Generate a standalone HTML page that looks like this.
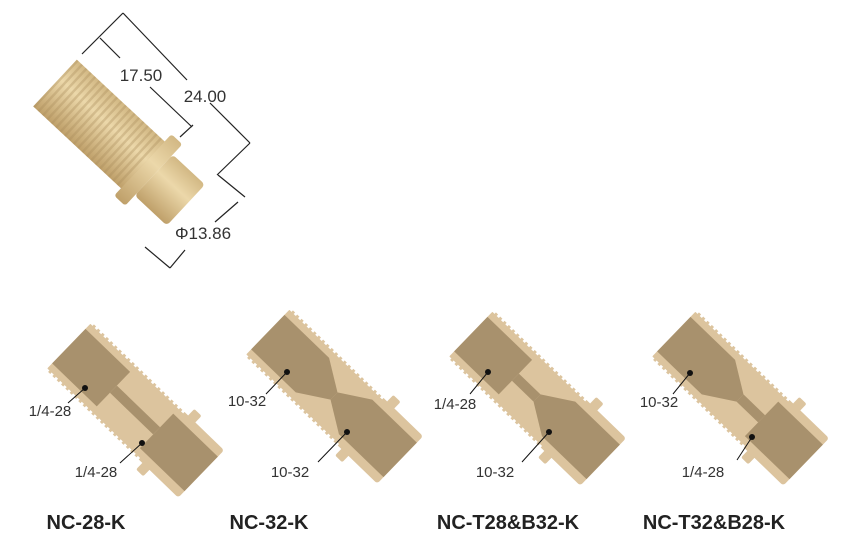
<!DOCTYPE html>
<html><head><meta charset="utf-8"><style>
html,body{margin:0;padding:0;background:#fff;}
svg{display:block;}
text{font-family:"Liberation Sans",sans-serif;}
</style></head><body>
<svg width="843" height="545" viewBox="0 0 843 545" xmlns="http://www.w3.org/2000/svg">
<defs>
<linearGradient id="br" x1="0" y1="0" x2="0" y2="1">
<stop offset="0" stop-color="#d2b884"/><stop offset="0.4" stop-color="#ecd8aa"/><stop offset="1" stop-color="#bfa06a"/>
</linearGradient>
<pattern id="thr" width="6" height="10" patternUnits="userSpaceOnUse">
<rect x="0" width="2.5" height="10" fill="#a98d5a" opacity="0.35"/>
</pattern>
<g id="body">
<rect x="-92" y="-33" width="184" height="66" rx="3" fill="#dcc49e"/>
<rect x="42" y="-42" width="10" height="84" rx="2" fill="#dcc49e"/>
<line x1="-92" y1="-33" x2="40" y2="-33" stroke="#fff" stroke-width="4" stroke-dasharray="3 3"/>
<line x1="-92" y1="33" x2="40" y2="33" stroke="#fff" stroke-width="4" stroke-dasharray="3 3"/>
</g>
<rect id="cl" x="-92" y="-24" width="62" height="48" fill="#a8916d"/>
<rect id="cr" x="30" y="-24" width="62" height="48" fill="#a8916d"/>
<polygon id="tl" points="-92,-24 -30,-24 0,-5 0,5 -30,24 -92,24" fill="#a8916d"/>
<polygon id="tr" points="92,-24 30,-24 0,-5 0,5 30,24 92,24" fill="#a8916d"/>
</defs>

<g transform="translate(55,83) rotate(43)">
<rect x="0" y="-32" width="122" height="64" fill="url(#br)"/>
<rect x="0" y="-32" width="122" height="64" fill="url(#thr)"/>
<rect x="120" y="-42" width="15" height="84" rx="3" fill="url(#br)"/>
<rect x="135" y="-28" width="44" height="56" rx="4" fill="url(#br)"/>
</g>
<g stroke="#222" stroke-width="1.2" fill="none">
<line x1="82" y1="54" x2="123" y2="13"/>
<line x1="123" y1="13" x2="187" y2="80"/>
<line x1="100" y1="38" x2="120" y2="58"/>
<line x1="150" y1="87" x2="192" y2="127"/>
<line x1="180" y1="137" x2="193" y2="125"/>
<line x1="210" y1="103" x2="250" y2="143"/>
<line x1="250" y1="143" x2="217" y2="175"/>
<line x1="218" y1="175" x2="245" y2="197"/>
<line x1="238" y1="202" x2="215" y2="222"/>
<line x1="145" y1="247" x2="170" y2="268"/>
<line x1="170" y1="268" x2="185" y2="250"/>
</g>
<g font-size="17" fill="#333" text-anchor="middle">
<text x="141" y="81">17.50</text>
<text x="205" y="102">24.00</text>
<text x="203" y="239">Φ13.86</text>
</g>

<g transform="translate(135,410) rotate(44)"><use href="#body"/><use href="#cl"/><rect x="-30" y="-5" width="60" height="10" fill="#a8916d"/><use href="#cr"/></g>
<g transform="translate(334,396) rotate(44)"><use href="#body"/><use href="#tl"/><use href="#tr"/></g>
<g transform="translate(537,398) rotate(44)"><use href="#body"/><use href="#cl"/><rect x="-30" y="-5" width="30" height="10" fill="#a8916d"/><use href="#tr"/></g>
<g transform="translate(740,398) rotate(44)"><use href="#body"/><use href="#tl"/><rect x="0" y="-5" width="30" height="10" fill="#a8916d"/><use href="#cr"/></g>

<g stroke="#111" stroke-width="1">
<line x1="85" y1="388" x2="68" y2="403"/><line x1="142" y1="443" x2="120" y2="463"/>
<line x1="287" y1="372" x2="266" y2="394"/><line x1="347" y1="432" x2="318" y2="462"/>
<line x1="488" y1="372" x2="470" y2="394"/><line x1="549" y1="432" x2="522" y2="462"/>
<line x1="690" y1="373" x2="673" y2="394"/><line x1="752" y1="437" x2="737" y2="460"/>
</g>
<g fill="#111">
<circle cx="85" cy="388" r="3"/><circle cx="142" cy="443" r="3"/>
<circle cx="287" cy="372" r="3"/><circle cx="347" cy="432" r="3"/>
<circle cx="488" cy="372" r="3"/><circle cx="549" cy="432" r="3"/>
<circle cx="690" cy="373" r="3"/><circle cx="752" cy="437" r="3"/>
</g>
<g font-size="15" fill="#333" text-anchor="middle">
<text x="50" y="416">1/4-28</text><text x="96" y="477">1/4-28</text>
<text x="247" y="406">10-32</text><text x="290" y="477">10-32</text>
<text x="455" y="409">1/4-28</text><text x="495" y="477">10-32</text>
<text x="659" y="407">10-32</text><text x="703" y="477">1/4-28</text>
</g>
<g font-size="20" font-weight="bold" fill="#222" text-anchor="middle">
<text x="86" y="529">NC-28-K</text>
<text x="269" y="529">NC-32-K</text>
<text x="508" y="529">NC-T28&amp;B32-K</text>
<text x="714" y="529">NC-T32&amp;B28-K</text>
</g>
</svg>
</body></html>
